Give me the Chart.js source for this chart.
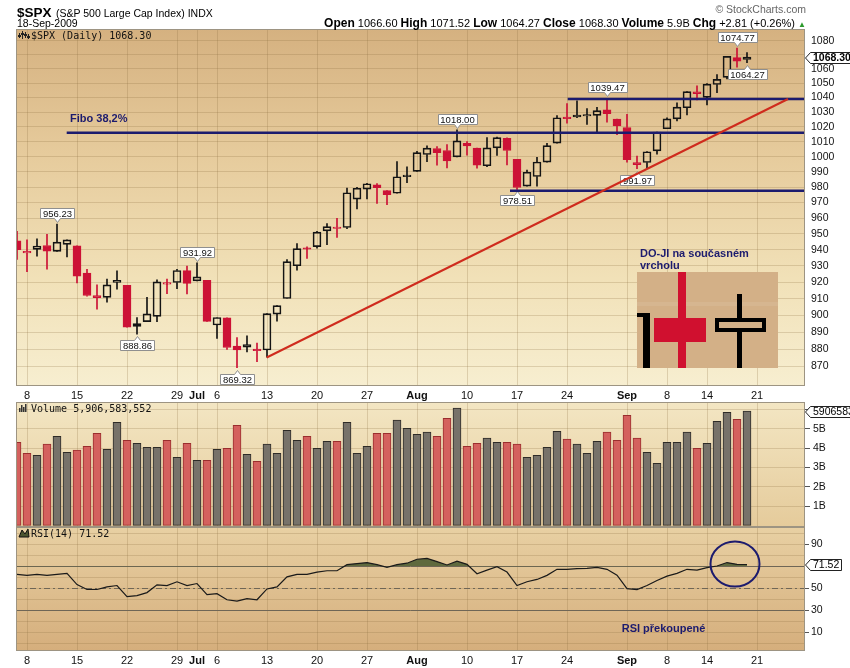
<!DOCTYPE html>
<html lang="cs">
<head>
<meta charset="utf-8">
<title>$SPX (Daily)</title>
<script src="https://cdn.jsdelivr.net/npm/chart.js@4/dist/chart.umd.min.js"></script>
<style>
  html, body { margin: 0; padding: 0; background: #fff; }
  #wrap { position: relative; width: 850px; height: 668px; overflow: hidden; font-family: "Liberation Sans", Arial, sans-serif; color: #000; }
  #wrap canvas { position: absolute; left: 0; top: 0; }
  .hd { position: absolute; white-space: nowrap; z-index: 2; line-height: 1; }
  .hd b { font-size: 12px; }
  .up { color: #2c9a2c; font-size: 8px; }
</style>
</head>
<body>
<div id="wrap">
  <canvas id="priceChart" width="850" height="668"></canvas>
  <canvas id="volumeChart" width="850" height="668"></canvas>
  <canvas id="rsiChart" width="850" height="668"></canvas>
  <div class="hd" style="left:17px;top:4px"><span style="font-size:13.5px;font-weight:bold">$SPX</span> <span style="font-size:10.5px">(S&amp;P 500 Large Cap Index) INDX</span></div>
  <div class="hd" style="left:17px;top:18px;font-size:10.5px">18-Sep-2009</div>
  <div class="hd" style="right:44px;top:4px;font-size:10.5px;color:#666">&copy; StockCharts.com</div>
  <div class="hd" style="right:44px;top:17px;font-size:11px"><b>Open</b> 1066.60 <b>High</b> 1071.52 <b>Low</b> 1064.27 <b>Close</b> 1068.30 <b>Volume</b> 5.9B <b>Chg</b> +2.81 (+0.26%) <span class="up">&#9650;</span></div>
</div>
<script>
// ---- S&P 500 daily sessions, 5 Jun – 18 Sep 2009 ----
const sessionDates = ['Jun 5','Jun 8','Jun 9','Jun 10','Jun 11','Jun 12','Jun 15','Jun 16','Jun 17','Jun 18','Jun 19',
  'Jun 22','Jun 23','Jun 24','Jun 25','Jun 26','Jun 29','Jun 30','Jul 1','Jul 2','Jul 6','Jul 7','Jul 8','Jul 9','Jul 10',
  'Jul 13','Jul 14','Jul 15','Jul 16','Jul 17','Jul 20','Jul 21','Jul 22','Jul 23','Jul 24','Jul 27','Jul 28','Jul 29','Jul 30','Jul 31',
  'Aug 3','Aug 4','Aug 5','Aug 6','Aug 7','Aug 10','Aug 11','Aug 12','Aug 13','Aug 14','Aug 17','Aug 18','Aug 19','Aug 20','Aug 21',
  'Aug 24','Aug 25','Aug 26','Aug 27','Aug 28','Aug 31','Sep 1','Sep 2','Sep 3','Sep 4','Sep 8','Sep 9','Sep 10','Sep 11',
  'Sep 14','Sep 15','Sep 16','Sep 17','Sep 18'];

const opens = [945.67,938.12,940.35,942.73,939.04,943.44,942.45,925.60,911.89,910.86,919.96,
  918.13,893.46,896.31,899.45,918.84,919.86,927.15,920.82,921.24,894.27,898.60,881.90,881.28,880.03,
  879.57,900.77,910.15,930.17,940.56,942.07,951.97,953.40,954.07,972.16,978.63,981.48,977.66,976.01,986.80,
  990.22,1001.41,1005.41,1004.06,999.83,1008.89,1005.77,994.00,1005.86,1012.23,998.18,980.62,986.88,996.41,1009.06,
  1026.59,1026.63,1027.35,1027.81,1031.62,1025.21,1019.52,996.07,996.12,1003.84,1018.67,1025.36,1032.99,1043.92,
  1040.15,1049.03,1053.99,1067.87,1066.60];
const highs = [951.69,946.33,946.92,949.77,956.23,946.30,942.45,928.00,918.44,922.00,927.09,
  918.13,898.69,910.85,921.42,922.00,927.99,930.01,931.92,921.24,898.72,898.60,886.80,887.86,883.57,
  901.05,905.84,933.95,943.96,941.89,951.62,956.53,959.83,979.42,979.79,982.49,982.35,977.76,996.68,993.18,
  1003.61,1007.12,1006.64,1008.00,1018.00,1010.12,1005.77,1012.78,1013.14,1012.60,998.18,991.20,999.61,1008.92,1027.59,
  1035.82,1037.75,1032.47,1033.33,1039.47,1025.21,1028.45,1000.34,1003.43,1016.48,1026.07,1036.34,1044.14,1048.18,
  1049.74,1056.04,1068.76,1074.77,1071.52];
const lows = [934.13,926.44,936.15,927.97,939.04,935.66,919.65,911.60,903.78,907.94,915.80,
  893.04,888.86,896.31,896.27,913.03,916.18,912.86,920.82,896.42,886.36,879.93,869.32,878.45,872.81,
  875.32,896.50,910.15,927.45,934.65,940.99,943.22,947.75,953.27,965.95,972.29,969.35,968.65,976.01,982.85,
  990.22,996.68,994.31,992.49,999.83,1000.99,992.40,993.36,1000.82,994.60,978.51,980.62,980.62,996.39,1009.06,
  1022.48,1026.21,1021.57,1016.20,1023.13,1014.62,996.28,991.97,992.25,1001.65,1018.67,1023.97,1028.04,1038.40,
  1035.00,1043.42,1052.87,1061.20,1064.27];
const closes = [940.09,939.14,942.43,939.15,944.89,946.21,923.72,911.97,910.71,918.37,921.23,
  893.04,895.10,900.94,920.26,918.90,927.23,919.32,923.33,896.42,898.72,881.03,879.56,882.68,879.13,
  901.05,905.84,932.68,940.74,940.38,951.13,954.58,954.07,976.29,979.26,982.18,979.62,975.15,986.75,987.48,
  1002.63,1005.65,1002.72,997.08,1010.48,1007.10,994.35,1005.81,1012.73,1004.09,979.73,989.67,996.46,1007.37,1026.13,
  1025.57,1028.00,1028.12,1030.98,1028.93,1020.62,998.04,994.75,1003.24,1016.40,1025.39,1033.37,1044.14,1042.73,
  1049.34,1052.63,1068.76,1065.49,1068.30];
const priorClose = 942.46;   // close of 4 Jun, colours the first session

// volume, billions of shares
const volumes = [4.30,3.73,3.63,4.20,4.61,3.78,3.89,4.09,4.76,3.94,5.33,
  4.40,4.25,4.04,4.04,4.40,3.52,4.25,3.37,3.37,3.94,3.99,5.18,3.68,3.32,
  4.20,3.73,4.92,4.40,4.61,3.99,4.35,4.35,5.33,3.73,4.09,4.76,4.76,5.44,5.02,
  4.71,4.82,4.61,5.54,6.06,4.09,4.25,4.51,4.30,4.30,4.20,3.52,3.63,4.04,4.87,
  4.46,4.20,3.73,4.35,4.82,4.40,5.69,4.51,3.78,3.21,4.30,4.30,4.82,3.99,
  4.25,5.38,5.85,5.49,5.9066];

// RSI(14)
const rsi14 = [62.6,61.7,62.6,61.7,62.6,63.5,53.4,48.9,48.9,51.3,52.5,
  42.4,43.3,46.1,53.1,52.5,55.9,52.5,54.3,44.2,45.1,39.6,38.4,40.6,39.6,
  49.4,51.3,60.4,62.6,62.6,64.7,65.9,65.9,71.4,72.4,73.3,71.4,69.0,71.4,72.7,
  76.3,77.0,74.2,71.1,74.5,71.7,63.2,66.5,69.6,64.7,52.5,55.9,58.0,61.7,67.2,
  67.2,67.8,68.1,69.0,67.2,61.9,49.7,48.8,52.5,57.1,61.0,63.5,67.2,66.5,
  68.7,70.2,73.3,71.7,71.52];

// date axis (positions are session numbers counted from 8 Jun)
const firstIndex = -1;
const tickIndex = [0,5,10,15,17,19,24,29,34,39,44,49,54,60,64,68,73];
const tickText  = ['8','15','22','29','Jul','6','13','20','27','Aug','10','17','24','Sep','8','14','21'];
const monthTicks = ['Jul','Aug','Sep'];

const priceTicks = [870,880,890,900,910,920,930,940,950,960,970,980,990,1000,1010,1020,1030,1040,1050,1060,1070,1080];
const volumeTicks = [1,2,3,4,5,6];
const rsiTicks = [0,10,20,30,40,50,60,70,80,90,100];
const rsiLabelled = [10,30,50,90];

// high / low call-outs
const callouts = [['Jun 11','high'],['Jun 23','low'],['Jul 1','high'],['Jul 8','low'],['Aug 7','high'],
  ['Aug 17','low'],['Aug 28','high'],['Sep 2','low'],['Sep 17','high'],['Sep 18','low']];

// drawn study lines: [start session, end session, level]
const fiboLine = [3.97, 77.8, 1015.9];
const resistanceLine = [54.07, 77.8, 1039.0];
const supportLine = [48.3, 77.8, 977.6];
const trendLine = [[23.97, 875.2], [76.1, 1039.0]];

const lastClose = 1068.30, lastVolume = 5906583552, lastRsi = 71.52;

// ---- helpers ----
const FONT = '"Liberation Sans", Arial, sans-serif';
const MONO = '"DejaVu Sans Mono", "Liberation Mono", monospace';
const NAVY = '#1c1b6e';
const GRID = 'rgba(140,108,64,0.24)';
const RED = '#cc1236', BLACK = '#141414';
const X_MIN = -1.1, X_MAX = 77.8;

Chart.defaults.font.family = FONT;

const xs = sessionDates.map((_, k) => firstIndex + k);
const dayIndex = d => firstIndex + sessionDates.indexOf(d);
const prevClose = k => (k === 0 ? priorClose : closes[k - 1]);
const candleColor = closes.map((c, k) => (c < prevClose(k) ? RED : BLACK));
const candleFilled = closes.map((c, k) => c < opens[k]);

function xAxis(showLabels, height) {
  const labelOf = v => tickText[tickIndex.indexOf(v)];
  return {
    type: 'linear', min: X_MIN, max: X_MAX, offset: false,
    afterBuildTicks: s => { s.ticks = tickIndex.map(v => ({ value: v })); },
    afterFit: s => { s.height = height; },
    grid: { color: GRID, drawTicks: false, offset: false },
    border: { display: false },
    ticks: {
      display: showLabels, autoSkip: false, maxRotation: 0, minRotation: 0, padding: 3, color: '#111',
      callback: v => labelOf(v),
      font: c => ({ family: FONT, size: 11, weight: monthTicks.includes(labelOf(c.tick ? c.tick.value : null)) ? 'bold' : 'normal' })
    }
  };
}

function panelPlugin(id, stops, title, icon) {
  return {
    id,
    beforeDraw(chart) {
      const { ctx, chartArea: a } = chart;
      const g = ctx.createLinearGradient(0, a.top, 0, a.bottom);
      stops.forEach(([o, c]) => g.addColorStop(o, c));
      ctx.save();
      ctx.fillStyle = g;
      ctx.fillRect(a.left, a.top, a.right - a.left, a.bottom - a.top);
      ctx.restore();
    },
    afterDatasetsDraw(chart) {
      const { ctx, chartArea: a } = chart;
      ctx.save();
      icon(ctx, a.left + 3, a.top + 2);
      ctx.font = '10px ' + MONO;
      ctx.fillStyle = '#111';
      ctx.textBaseline = 'alphabetic';
      ctx.fillText(title, a.left + 15, a.top + 10);
      ctx.restore();
    },
    afterDraw(chart) {
      const { ctx, chartArea: a } = chart;
      ctx.save();
      ctx.strokeStyle = '#9d9482';
      ctx.lineWidth = 1;
      ctx.strokeRect(a.left + 0.5, a.top + 0.5, a.right - a.left - 1, a.bottom - a.top - 1);
      ctx.restore();
    }
  };
}

function axisTag(ctx, xTip, y, text, bold) {
  ctx.save();
  ctx.font = (bold ? 'bold ' : '') + '10.5px ' + FONT;
  const w = Math.round(ctx.measureText(text).width + 5), h = 11;
  const x0 = xTip + 5, top = Math.round(y - h / 2) + 0.5;
  ctx.beginPath();
  ctx.moveTo(xTip + 0.5, top + h / 2);
  ctx.lineTo(x0 + 0.5, top);
  ctx.lineTo(x0 + w + 0.5, top);
  ctx.lineTo(x0 + w + 0.5, top + h);
  ctx.lineTo(x0 + 0.5, top + h);
  ctx.closePath();
  ctx.fillStyle = '#fff'; ctx.fill();
  ctx.strokeStyle = '#222'; ctx.lineWidth = 1; ctx.stroke();
  ctx.fillStyle = '#000'; ctx.textBaseline = 'middle'; ctx.textAlign = 'left';
  ctx.fillText(text, x0 + 3, top + h / 2 + 0.5);
  ctx.restore();
}

function drawCallout(ctx, x, yTip, text, above) {
  ctx.save();
  ctx.font = '9.5px ' + FONT;
  const w = Math.round(ctx.measureText(text).width + 5), h = 10, gap = 6;
  const l = Math.round(x - w / 2) + 0.5, r = l + w;
  const t = above ? Math.round(yTip - gap - h) + 0.5 : Math.round(yTip + gap) + 0.5;
  const b = t + h;
  ctx.beginPath();
  if (above) {
    ctx.moveTo(l, t); ctx.lineTo(r, t); ctx.lineTo(r, b);
    ctx.lineTo(x + 3.5, b); ctx.lineTo(x + 0.5, b + 4); ctx.lineTo(x - 2.5, b);
    ctx.lineTo(l, b);
  } else {
    ctx.moveTo(l, t); ctx.lineTo(x - 2.5, t); ctx.lineTo(x + 0.5, t - 4); ctx.lineTo(x + 3.5, t);
    ctx.lineTo(r, t); ctx.lineTo(r, b); ctx.lineTo(l, b);
  }
  ctx.closePath();
  ctx.fillStyle = '#fff'; ctx.fill();
  ctx.strokeStyle = '#8f8f8f'; ctx.lineWidth = 1; ctx.stroke();
  ctx.fillStyle = '#111'; ctx.textAlign = 'center'; ctx.textBaseline = 'middle';
  ctx.fillText(text, x + 0.5, t + h / 2 + 0.5);
  ctx.restore();
}

// small legend glyphs
function candleIcon(ctx, x, y) {
  ctx.fillStyle = '#222';
  [[0, 2, 5], [3, 0, 8], [6, 1, 6], [9, 3, 5]].forEach(([dx, dy, h]) => {
    ctx.fillRect(x + dx, y + dy, 1, h);
    ctx.fillRect(x + dx - 1, y + dy + 2, 3, 2);
  });
}
function barIcon(ctx, x, y) {
  ctx.fillStyle = '#333';
  [[0, 4], [2, 1], [4, 3], [6, 0]].forEach(([dx, dy]) => ctx.fillRect(x + dx, y + dy, 1.5, 8 - dy));
}
function rsiIcon(ctx, x, y) {
  ctx.beginPath();
  ctx.moveTo(x, y + 8); ctx.lineTo(x + 3, y + 1); ctx.lineTo(x + 6, y + 5); ctx.lineTo(x + 9, y); ctx.lineTo(x + 10, y + 8);
  ctx.closePath();
  ctx.fillStyle = '#4b5530'; ctx.fill();
  ctx.strokeStyle = '#111'; ctx.lineWidth = 1; ctx.stroke();
}

// ---- price panel ----
const pricePanel = panelPlugin('pricePanel',
  [[0, '#d5b180'], [0.35, '#e6cb9c'], [0.7, '#f1e1b8'], [1, '#f7eed0']],
  '$SPX (Daily) ' + lastClose.toFixed(2), candleIcon);

const priceNotes = {
  id: 'priceNotes',
  afterDatasetDraw(chart, args) {
    if (chart.data.datasets[args.index].label !== 'bodies') return;
    const { ctx, scales: { x, y } } = chart;
    callouts.forEach(([day, field]) => {
      const k = sessionDates.indexOf(day);
      const v = field === 'high' ? highs[k] : lows[k];
      drawCallout(ctx, Math.round(x.getPixelForValue(dayIndex(day))), y.getPixelForValue(v), v.toFixed(2), field === 'high');
    });
  },
  afterDatasetsDraw(chart) {
    const { ctx, scales: { x, y } } = chart;
    ctx.save();
    ctx.fillStyle = NAVY;
    ctx.font = 'bold 11px ' + FONT;
    ctx.textBaseline = 'alphabetic';
    ctx.fillText('Fibo 38,2%', x.getPixelForValue(4.3), y.getPixelForValue(1023.2));
    ctx.fillText('DO-JI na současném', x.getPixelForValue(61.3), y.getPixelForValue(935.7));
    ctx.fillText('vrcholu', x.getPixelForValue(61.3), y.getPixelForValue(927.9));

    // doji sketch: marker, filled doji, hollow doji
    const x0 = Math.round(x.getPixelForValue(60.97)), y0 = Math.round(y.getPixelForValue(926.6));
    const tan = '#d3b087';
    ctx.fillStyle = tan; ctx.fillRect(x0, y0, 141, 96);
    ctx.fillStyle = 'rgba(255,255,255,0.08)'; ctx.fillRect(x0, y0 + 30, 141, 4);
    ctx.fillStyle = '#000';
    ctx.fillRect(x0 + 6, y0 + 41, 7, 55);
    ctx.fillRect(x0, y0 + 41, 13, 4);
    ctx.fillStyle = '#d0102f';
    ctx.fillRect(x0 + 41, y0, 8, 96);
    ctx.fillRect(x0 + 17, y0 + 46, 52, 24);
    ctx.fillStyle = '#000';
    ctx.fillRect(x0 + 100, y0 + 22, 5, 74);
    ctx.fillRect(x0 + 78, y0 + 46, 51, 14);
    ctx.fillStyle = tan; ctx.fillRect(x0 + 82, y0 + 50, 43, 6);
    ctx.restore();
  },
  afterDraw(chart) {
    const { ctx, chartArea: a, scales: { y } } = chart;
    axisTag(ctx, a.right, y.getPixelForValue(lastClose), lastClose.toFixed(2), true);
  }
};

const levelLine = (lv, label) => ({
  type: 'line', label, data: [{ x: lv[0], y: lv[2] }, { x: lv[1], y: lv[2] }],
  borderColor: NAVY, borderWidth: 2.5, pointRadius: 0, fill: false, order: 2
});

new Chart(document.getElementById('priceChart'), {
  type: 'bar',
  data: {
    datasets: [
      { type: 'line', label: 'trend', data: trendLine.map(([i, p]) => ({ x: i, y: p })),
        borderColor: '#cf2b1d', borderWidth: 2, pointRadius: 0, fill: false, order: 1 },
      levelLine(fiboLine, 'fibo'), levelLine(resistanceLine, 'resistance'), levelLine(supportLine, 'support'),
      { label: 'bodies', data: xs.map((x, k) => ({ x, y: [opens[k], closes[k]] })),
        backgroundColor: candleColor.map((c, k) => (candleFilled[k] ? c : 'rgba(0,0,0,0)')),
        borderColor: candleColor, borderWidth: 1, borderSkipped: false,
        barThickness: 8, minBarLength: 1.5, grouped: false, order: 4 },
      { label: 'upper wicks', data: xs.map((x, k) => ({ x, y: [Math.max(opens[k], closes[k]), highs[k]] })),
        backgroundColor: candleColor, borderWidth: 0, barThickness: 1, grouped: false, order: 5 },
      { label: 'lower wicks', data: xs.map((x, k) => ({ x, y: [lows[k], Math.min(opens[k], closes[k])] })),
        backgroundColor: candleColor, borderWidth: 0, barThickness: 1, grouped: false, order: 5 }
    ]
  },
  options: {
    animation: false, responsive: false, devicePixelRatio: 1, events: [],
    layout: { padding: { left: 16, right: 0, top: 29, bottom: 265 } },
    plugins: { legend: { display: false }, tooltip: { enabled: false } },
    scales: {
      x: xAxis(true, 17),
      y: {
        type: 'logarithmic', position: 'right', min: 858.8, max: 1088.4,
        afterBuildTicks: s => { s.ticks = priceTicks.map(v => ({ value: v })); },
        afterFit: s => { s.width = 45; },
        grid: { color: GRID, drawTicks: false },
        border: { display: false },
        ticks: { autoSkip: false, padding: 6, color: '#111', font: { size: 10.5 },
          callback: v => (v === 1070 ? '' : String(v)) }
      }
    }
  },
  plugins: [pricePanel, priceNotes]
});

// ---- volume panel ----
const volumePanel = panelPlugin('volumePanel',
  [[0, '#f3e6c3'], [1, '#e5cb9b']],
  'Volume ' + lastVolume.toLocaleString('en-US'), barIcon);

new Chart(document.getElementById('volumeChart'), {
  type: 'bar',
  data: {
    datasets: [{
      label: 'volume', data: xs.map((x, k) => ({ x, y: volumes[k] })),
      backgroundColor: candleColor.map(c => (c === RED ? '#d4615e' : '#77726a')),
      borderColor: candleColor.map(c => (c === RED ? '#9a2e2e' : '#2e2b27')),
      borderWidth: 1, borderSkipped: false, barThickness: 8, grouped: false
    }]
  },
  options: {
    animation: false, responsive: false, devicePixelRatio: 1, events: [],
    layout: { padding: { left: 16, right: 0, top: 402, bottom: 141 } },
    plugins: { legend: { display: false }, tooltip: { enabled: false } },
    scales: {
      x: xAxis(false, 0),
      y: {
        type: 'linear', position: 'right', min: -0.08, max: 6.38,
        afterBuildTicks: s => { s.ticks = volumeTicks.map(v => ({ value: v })); },
        afterFit: s => { s.width = 45; },
        grid: { color: GRID, drawTicks: true, tickLength: 5, tickColor: '#555' },
        border: { display: false },
        ticks: { autoSkip: false, padding: 3, color: '#111', font: { size: 10.5 },
          callback: v => (v >= 6 ? '' : v + 'B') }
      }
    }
  },
  plugins: [volumePanel, {
    id: 'volumeTag',
    afterDraw(chart) {
      const { ctx, chartArea: a, scales: { y } } = chart;
      axisTag(ctx, a.right, y.getPixelForValue(lastVolume / 1e9), String(Math.floor(lastVolume / 1000)), false);
    }
  }]
});

// ---- RSI panel ----
const rsiPanel = panelPlugin('rsiPanel',
  [[0, '#e8d0a3'], [1, '#d5ae7c']],
  'RSI(14) ' + lastRsi.toFixed(2), rsiIcon);

const rsiNotes = {
  id: 'rsiNotes',
  beforeDatasetsDraw(chart) {
    const { ctx, chartArea: a, scales: { y } } = chart;
    ctx.save();
    ctx.strokeStyle = '#6f6656';
    ctx.lineWidth = 1;
    [70, 30].forEach(v => {
      const py = Math.round(y.getPixelForValue(v)) + 0.5;
      ctx.beginPath(); ctx.moveTo(a.left, py); ctx.lineTo(a.right, py); ctx.stroke();
    });
    const py = Math.round(y.getPixelForValue(50)) + 0.5;
    ctx.setLineDash([6, 3, 2, 3]);
    ctx.beginPath(); ctx.moveTo(a.left, py); ctx.lineTo(a.right, py); ctx.stroke();
    ctx.restore();
  },
  afterDatasetsDraw(chart) {
    const { ctx, scales: { x, y } } = chart;
    ctx.save();
    ctx.strokeStyle = NAVY; ctx.lineWidth = 2;
    ctx.beginPath();
    ctx.ellipse(x.getPixelForValue(70.8), y.getPixelForValue(72.0), 24.5, 22.5, 0, 0, Math.PI * 2);
    ctx.stroke();
    ctx.fillStyle = NAVY;
    ctx.font = 'bold 11px ' + FONT;
    ctx.fillText('RSI překoupené', x.getPixelForValue(59.47), y.getPixelForValue(10.1));
    ctx.restore();
  },
  afterDraw(chart) {
    const { ctx, chartArea: a, scales: { y } } = chart;
    axisTag(ctx, a.right, y.getPixelForValue(lastRsi), lastRsi.toFixed(2), false);
  }
};

new Chart(document.getElementById('rsiChart'), {
  type: 'line',
  data: {
    datasets: [{
      label: 'RSI(14)', data: xs.map((x, k) => ({ x, y: rsi14[k] })),
      borderColor: '#1a1a1a', borderWidth: 1.2, pointRadius: 0, tension: 0,
      fill: { target: { value: 70 }, above: '#5f6a3e', below: 'rgba(0,0,0,0)' }
    }]
  },
  options: {
    animation: false, responsive: false, devicePixelRatio: 1, events: [],
    layout: { padding: { left: 16, right: 0, top: 527, bottom: 0 } },
    plugins: { legend: { display: false }, tooltip: { enabled: false } },
    scales: {
      x: xAxis(true, 17),
      y: {
        type: 'linear', position: 'right', min: -6.8, max: 105.5,
        afterBuildTicks: s => { s.ticks = rsiTicks.map(v => ({ value: v })); },
        afterFit: s => { s.width = 45; },
        grid: { color: GRID, drawTicks: true, tickLength: 4,
          tickColor: c => (rsiLabelled.includes(c.tick && c.tick.value) ? '#555' : 'rgba(0,0,0,0)') },
        border: { display: false },
        ticks: { autoSkip: false, padding: 2, color: '#111', font: { size: 10.5 },
          callback: v => (rsiLabelled.includes(v) ? String(v) : '') }
      }
    }
  },
  plugins: [rsiPanel, rsiNotes]
});
</script>
</body>
</html>
